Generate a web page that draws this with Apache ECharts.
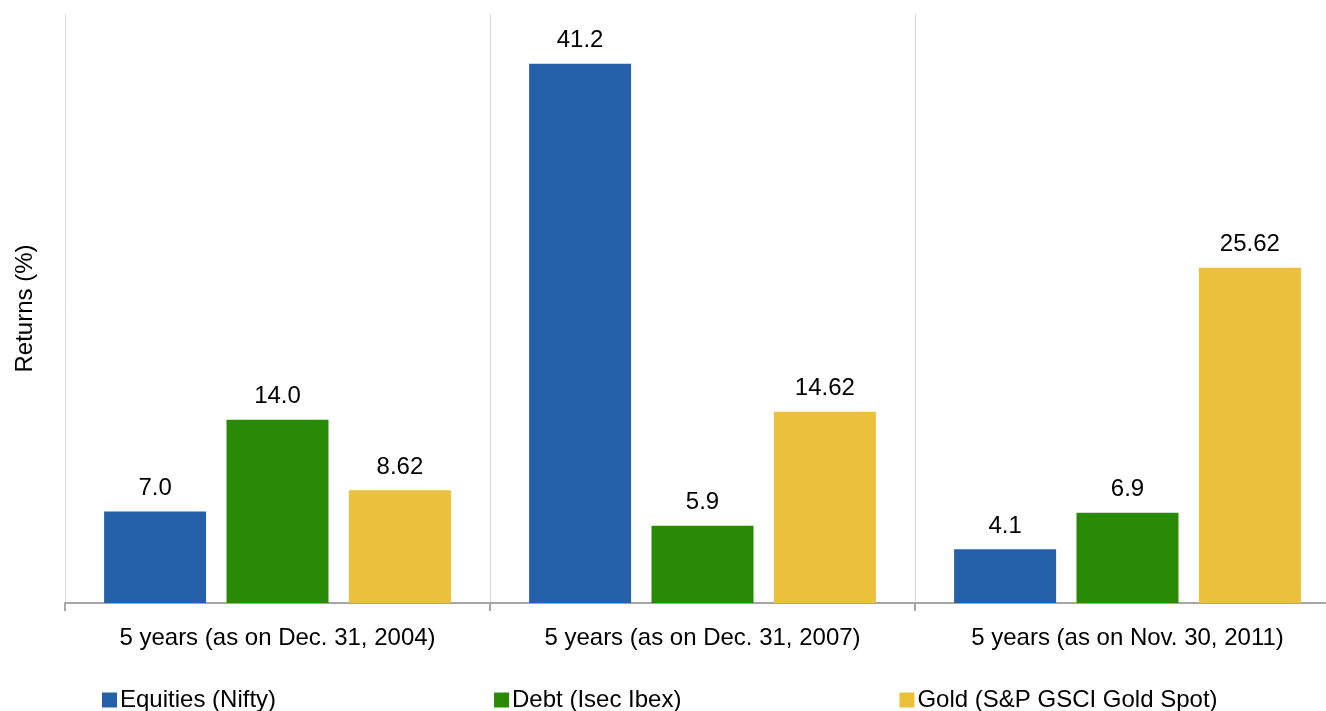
<!DOCTYPE html>
<html>
<head>
<meta charset="utf-8">
<script src="https://cdn.jsdelivr.net/npm/echarts@6/dist/echarts.min.js"></script>
<style>
html, body { margin: 0; padding: 0; background: #fff; }
#chart { width: 1326px; height: 711px; }
</style>
</head>
<body>
<div id="chart"></div>
<script>
var categories = ['5 years (as on Dec. 31, 2004)', '5 years (as on Dec. 31, 2007)', '5 years (as on Nov. 30, 2011)'];
var seriesNames = ['Equities (Nifty)', 'Debt (Isec Ibex)', 'Gold (S&P GSCI Gold Spot)'];
var equities = [7.0, 41.2, 4.1];
var debt = [14.0, 5.9, 6.9];
var gold = [8.62, 14.62, 25.62];
var colors = ['#2561a8', '#288a05', '#ebc03a'];

var font = 'Liberation Sans, Arial, sans-serif';

function makeSeries(name, data, color, fmt) {
    return {
        name: name,
        type: 'bar',
        data: data,
        barWidth: 102,
        barGap: '20%',
        itemStyle: { color: color },
        label: {
            show: true,
            position: 'top',
            distance: 11,
            fontSize: 24,
            fontFamily: font,
            color: '#000',
            formatter: fmt
        }
    };
}

var chart = echarts.init(document.getElementById('chart'));
chart.setOption({
    animation: false,
    textStyle: { fontFamily: font },
    grid: { left: 65, top: 14, bottom: 108, width: 1275, outerBoundsMode: 'none', containLabel: false },
    legend: {
        bottom: -1,
        left: 102,
        padding: 0,
        itemWidth: 15,
        itemHeight: 15,
        itemGap: 218,
        icon: 'rect',
        textStyle: { fontSize: 24, color: '#000', fontFamily: font, padding: [0, 0, 0, -2] },
        data: seriesNames
    },
    xAxis: {
        type: 'category',
        data: categories,
        axisLine: { lineStyle: { color: '#a6a6a6', width: 2 } },
        axisTick: { show: true, length: 8, lineStyle: { color: '#a6a6a6', width: 2 } },
        axisLabel: { fontSize: 24, color: '#000', margin: 23, fontFamily: font },
        splitLine: { show: true, interval: 0, lineStyle: { color: '#d9d9d9', width: 1 } }
    },
    yAxis: {
        type: 'value',
        min: 0,
        max: 45,
        name: 'Returns (%)',
        nameLocation: 'middle',
        nameGap: 28,
        nameTextStyle: { fontSize: 24, color: '#000', fontFamily: font },
        axisLine: { show: false },
        axisTick: { show: false },
        axisLabel: { show: false },
        splitLine: { show: false }
    },
    series: [
        makeSeries(seriesNames[0], equities, colors[0], function (p) { return p.value.toFixed(1); }),
        makeSeries(seriesNames[1], debt, colors[1], function (p) { return p.value.toFixed(1); }),
        makeSeries(seriesNames[2], gold, colors[2], function (p) { return p.value.toFixed(2); })
    ]
});
</script>
</body>
</html>
